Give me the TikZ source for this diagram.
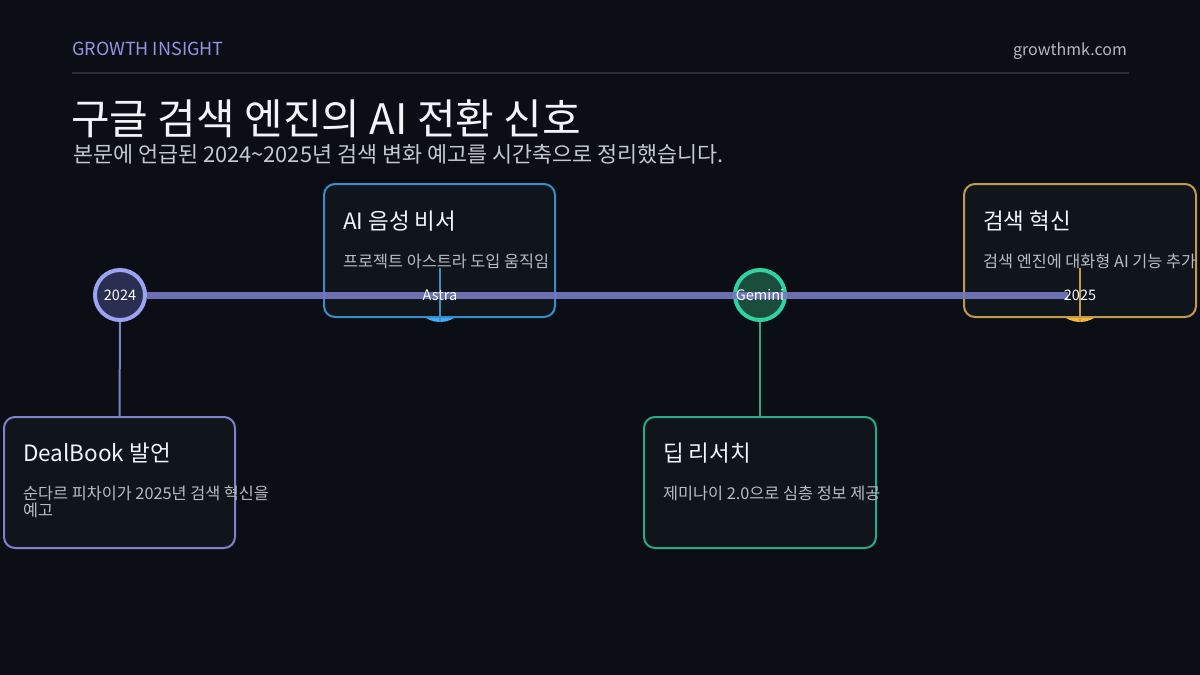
\documentclass[tikz,border=0pt]{standalone}
\usepackage{fontspec}
\setmainfont{Noto Sans CJK KR}
\definecolor{bg}{HTML}{0B0E14}
\definecolor{hdr}{HTML}{9296E2}
\definecolor{dom}{HTML}{B4B8C0}
\definecolor{divc}{HTML}{2B2F38}
\definecolor{ttl}{HTML}{F2F4F7}
\definecolor{sub}{HTML}{C4C8D0}
\definecolor{desc}{HTML}{B8BCC4}
\definecolor{barc}{HTML}{7478C0}
\definecolor{cardfill}{HTML}{10151C}
\definecolor{lavB}{HTML}{7E82CC}
\definecolor{lavC}{HTML}{9EA2F2}
\definecolor{lavF}{HTML}{2A2E50}
\definecolor{bluB}{HTML}{3A8EC8}
\definecolor{bluC}{HTML}{40AEF8}
\definecolor{bluF}{HTML}{1A4060}
\definecolor{grnB}{HTML}{2AAA84}
\definecolor{grnC}{HTML}{2ED3A0}
\definecolor{grnF}{HTML}{1B4D3D}
\definecolor{gldB}{HTML}{C29A4A}
\definecolor{gldC}{HTML}{F2BA32}
\definecolor{gldF}{HTML}{5A4A20}
\tikzset{
  txt/.style={inner sep=0pt, anchor=base west},
  cardbox/.style={draw=#1, line width=2pt, rounded corners=11pt, fill=cardfill},
  dot/.style={circle, minimum size=50pt, inner sep=0pt, line width=4pt},
  dotlbl/.style={inner sep=0pt, anchor=base, text=white, font=\fontsize{14.5}{17}\selectfont},
  cardttl/.style={txt, text=ttl, font=\fontsize{22.5}{26}\selectfont},
  carddesc/.style={txt, text=desc, font=\fontsize{16.3}{17}\selectfont, align=left},
  stem/.style={line width=2pt}
}
\begin{document}
\begin{tikzpicture}[x=1pt,y=-1pt]
\useasboundingbox (0,0) rectangle (1200,675);
\clip (0,0) rectangle (1200,675);
\fill[bg] (0,0) rectangle (1200,675);
% header
\node[txt, text=hdr, font=\fontsize{18}{21}\selectfont] (hdr) at (72,55) {GROWTH INSIGHT};
\node[inner sep=0pt, anchor=base east, text=dom, font=\fontsize{16}{19}\selectfont] (dom) at (1127,55) {growthmk.com};
\coordinate (dl) at (72,73);
\coordinate (dr) at (1129,73);
\draw[divc, line width=2pt] (dl) -- (dr);
\node[txt, text=ttl, font=\fontsize{42}{50}\selectfont] (title) at (71,134) {구글 검색 엔진의 AI 전환 신호};
\node[txt, text=sub, font=\fontsize{21.8}{26}\selectfont] (subt) at (73,162) {본문에 언급된 2024\char`~2025년 검색 변화 예고를 시간축으로 정리했습니다.};
% dots
\node[dot, draw=lavC, fill=lavF] (d1) at (120,295) {};
\node[dot, draw=bluC, fill=bluF] (d2) at (440,295) {};
\node[dot, draw=grnC, fill=grnF] (d3) at (760,295) {};
\node[dot, draw=gldC, fill=gldF] (d4) at (1080,295) {};
% cards
\node[cardbox=lavB, minimum width=231pt, minimum height=131pt, inner sep=0pt] (c1) at (119.5,482.5) {};
\node[cardbox=bluB, minimum width=231pt, minimum height=133pt, inner sep=0pt] (c2) at (439.5,250.5) {};
\node[cardbox=grnB, minimum width=232pt, minimum height=131pt, inner sep=0pt] (c3) at (760,482.5) {};
\node[cardbox=gldB, minimum width=232pt, minimum height=133pt, inner sep=0pt] (c4) at (1080,250.5) {};
% timeline bar
\coordinate (be) at (1068,295);
\draw[barc, line width=7pt, opacity=0.92] (d1.east) -- (be);
% stems
\coordinate (s2) at (440,268);
\coordinate (s4) at (1080,268);
\draw[stem, lavB] (d1.south) -- (c1.north);
\draw[stem, grnB] (d3.south) -- (c3.north);
\draw[stem, bluB] (d2.south) -- (s2);
\draw[stem, gldB] (d4.south) -- (s4);
% card texts
\node[cardttl] (t1) at (23,461) {DealBook 발언};
\node[carddesc] (x1) at (23,516) {순다르 피차이가 2025년 검색 혁신을\\예고};
\node[cardttl] (t2) at (343,229) {AI 음성 비서};
\node[carddesc] (x2) at (343,267) {프로젝트 아스트라 도입 움직임};
\node[cardttl] (t3) at (663,461) {딥 리서치};
\node[carddesc] (x3) at (663,499) {제미나이 2.0으로 심층 정보 제공};
\node[cardttl] (t4) at (983,229) {검색 혁신};
\node[carddesc] (x4) at (983,267) {검색 엔진에 대화형 AI 기능 추가};
% dot labels
\node[dotlbl] (l1) at (120,300) {2024};
\node[dotlbl] (l2) at (440,300) {Astra};
\node[dotlbl] (l3) at (760,300) {Gemini};
\node[dotlbl] (l4) at (1080,300) {2025};
\end{tikzpicture}
\end{document}
